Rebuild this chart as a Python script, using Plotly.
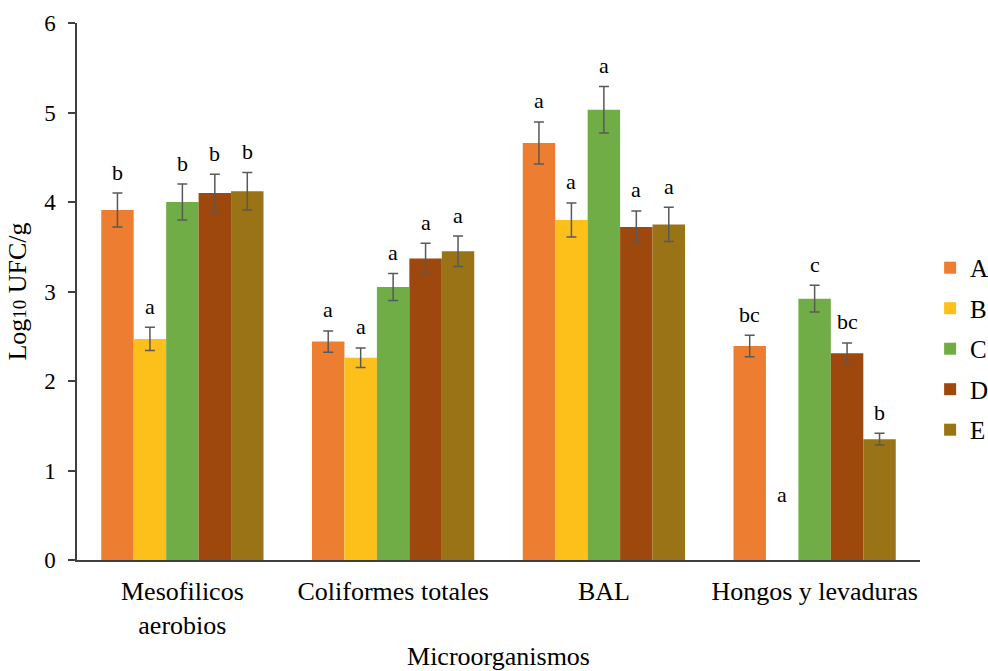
import plotly.graph_objects as go

# Microbial counts (log10 CFU/g) per treatment, with standard deviations
categories = ["Mesofilicos<br>aerobios", "Coliformes totales", "BAL", "Hongos y levaduras"]
series_names = ["A", "B", "C", "D", "E"]
colors = ["#ED7D31", "#FDC01A", "#70AD47", "#9E480E", "#997316"]

values_A = [3.91, 2.44, 4.66, 2.39]
values_B = [2.47, 2.26, 3.80, 0.0]
values_C = [4.00, 3.05, 5.03, 2.92]
values_D = [4.10, 3.37, 3.72, 2.31]
values_E = [4.12, 3.45, 3.75, 1.35]

errors_A = [0.19, 0.12, 0.235, 0.12]
errors_B = [0.13, 0.11, 0.19, 0.0]
errors_C = [0.20, 0.15, 0.26, 0.15]
errors_D = [0.21, 0.17, 0.18, 0.115]
errors_E = [0.21, 0.17, 0.19, 0.065]

letters_A = ["b", "a", "a", "bc"]
letters_B = ["a", "a", "a", "a"]
letters_C = ["b", "a", "a", "c"]
letters_D = ["b", "a", "a", "bc"]
letters_E = ["b", "a", "a", "b"]

values = [values_A, values_B, values_C, values_D, values_E]
errors = [errors_A, errors_B, errors_C, errors_D, errors_E]
letters = [letters_A, letters_B, letters_C, letters_D, letters_E]

FONT = "Liberation Serif"
BARGAP = 0.23

fig = go.Figure()
for name, color, vals, errs in zip(series_names, colors, values, errors):
    # a zero count has no bar and no error bar (not even a zero-length cap)
    y_plot = [v if v > 0 else None for v in vals]
    fig.add_trace(go.Bar(
        name=name,
        x=categories,
        y=y_plot,
        marker=dict(color=color, line=dict(width=0)),
        error_y=dict(type="data", array=errs, visible=True,
                     color="#595959", thickness=1.5, width=5),
        legendgroup=name,
    ))

# Significance letters above each error bar
n = len(series_names)
bar_w = (1 - BARGAP) / n
for j in range(n):
    for i in range(len(categories)):
        top = values[j][i] + errors[j][i]
        fig.add_annotation(
            x=i + (j - (n - 1) / 2) * bar_w,
            y=max(top, 0.5),
            xref="x", yref="y",
            text=letters[j][i],
            showarrow=False,
            yanchor="middle",
            yshift=21,
            font=dict(family=FONT, size=22, color="#000000"),
        )

fig.update_layout(
    width=988, height=671,
    margin=dict(l=77, r=68, t=23, b=111, autoexpand=False),
    paper_bgcolor="white",
    plot_bgcolor="white",
    barmode="group",
    bargap=BARGAP,
    bargroupgap=0,
    font=dict(family=FONT, color="#000000"),
    legend=dict(
        x=1.012, xanchor="left",
        y=0.393, yanchor="middle",
        font=dict(family=FONT, size=25, color="#000000"),
        tracegroupgap=5,
        bgcolor="rgba(0,0,0,0)",
    ),
    showlegend=True,
)

fig.update_xaxes(
    showline=True, linecolor="#404040", linewidth=1.5,
    ticks="", showgrid=False,
    ticklabelstandoff=7,
    tickfont=dict(family=FONT, size=26, color="#000000"),
    title=dict(text="Microorganismos", font=dict(family=FONT, size=26, color="#000000"),
               standoff=14),
)
fig.update_yaxes(
    range=[0, 6], dtick=1, tick0=0,
    showline=True, linecolor="#404040", linewidth=1.5,
    ticks="outside", ticklen=7, tickcolor="#404040", tickwidth=1.5,
    ticklabelstandoff=8,
    showgrid=False, zeroline=False,
    tickfont=dict(family=FONT, size=23, color="#000000"),
    title=dict(text="Log<span style='font-size:19px'>10</span> UFC/g",
               font=dict(family=FONT, size=26, color="#000000"),
               standoff=10),
)

fig.write_html("out.html")
